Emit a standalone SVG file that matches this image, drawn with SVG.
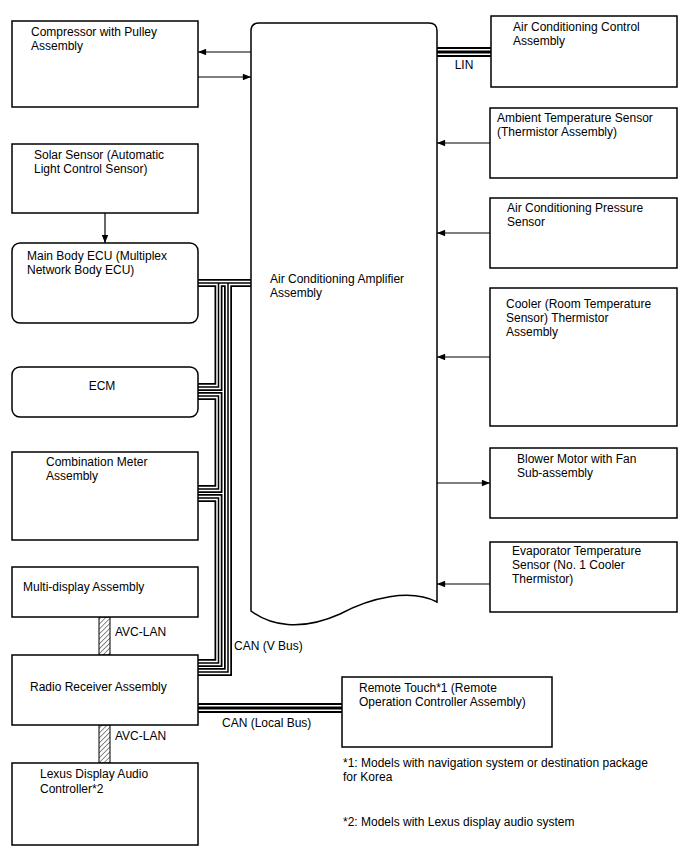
<svg xmlns="http://www.w3.org/2000/svg" width="688" height="852" viewBox="0 0 688 852">
<defs>
<marker id="ah" viewBox="0 0 10 8" refX="10" refY="4" markerWidth="9" markerHeight="6.5" orient="auto" markerUnits="userSpaceOnUse">
<path d="M0,0 L10,4 L0,8 z" fill="#000"/>
</marker>
<pattern id="hatch" width="3.5" height="3.5" patternUnits="userSpaceOnUse" patternTransform="rotate(45)">
<rect width="3.5" height="3.5" fill="#fff"/>
<line x1="0" y1="0" x2="0" y2="3.5" stroke="#000" stroke-width="0.9"/>
</pattern>
</defs>
<style>
text{font-family:"Liberation Sans",Arial,sans-serif;font-size:12px;fill:#000}
.box{fill:#fff;stroke:#000;stroke-width:1.5}
.ln{fill:none;stroke:#000;stroke-width:1.2}
.k{fill:none;stroke:#000;stroke-width:8;stroke-linejoin:miter}
.w{fill:none;stroke:#fff;stroke-width:4.5;stroke-linejoin:miter}
.c{fill:none;stroke:#000;stroke-width:1.5;stroke-linejoin:miter}
.kl{fill:none;stroke:#000;stroke-width:10}
.wl{fill:none;stroke:#fff;stroke-width:6}
.cl{fill:none;stroke:#000;stroke-width:3}
.hat{fill:url(#hatch);stroke:#000;stroke-width:1}
</style>

<g id="connectors">
<line class="ln" x1="251" y1="52" x2="198" y2="52" marker-end="url(#ah)"/>
<line class="ln" x1="198" y1="77" x2="251" y2="77" marker-end="url(#ah)"/>
<line class="ln" x1="105" y1="213" x2="105" y2="243" marker-end="url(#ah)"/>
<line class="ln" x1="490" y1="143" x2="437" y2="143" marker-end="url(#ah)"/>
<line class="ln" x1="490" y1="233" x2="437" y2="233" marker-end="url(#ah)"/>
<line class="ln" x1="490" y1="357" x2="437" y2="357" marker-end="url(#ah)"/>
<line class="ln" x1="437" y1="483" x2="490" y2="483" marker-end="url(#ah)"/>
<line class="ln" x1="490" y1="584" x2="437" y2="584" marker-end="url(#ah)"/>
<g id="lin-bus">
<line class="kl" x1="437" y1="52" x2="491" y2="52"/>
<line class="wl" x1="437" y1="52" x2="491" y2="52"/>
<line class="cl" x1="437" y1="52" x2="491" y2="52"/>
</g>
<g id="can-local-bus">
<line class="kl" x1="197" y1="708" x2="342" y2="708"/>
<line class="wl" x1="197" y1="708" x2="342" y2="708"/>
<line class="cl" x1="197" y1="708" x2="342" y2="708"/>
</g>
<g id="can-v-bus">
<path class="k" d="M197,283 H251"/>
<path class="k" d="M228,283 V672 H197"/>
<path class="k" d="M218.5,283 V387 H197"/>
<path class="k" d="M197,396 H218.5 V489 H197"/>
<path class="k" d="M197,498 H218.5 V663 H197"/>
<path class="w" d="M197,283 H251"/>
<path class="w" d="M228,283 V672 H197"/>
<path class="w" d="M218.5,283 V387 H197"/>
<path class="w" d="M197,396 H218.5 V489 H197"/>
<path class="w" d="M197,498 H218.5 V663 H197"/>
<path class="c" d="M197,283 H251"/>
<path class="c" d="M228,283 V672 H197"/>
<path class="c" d="M218.5,283 V387 H197"/>
<path class="c" d="M197,396 H218.5 V489 H197"/>
<path class="c" d="M197,498 H218.5 V663 H197"/>
</g>
<rect class="hat" x="99" y="617" width="11" height="38"/>
<rect class="hat" x="99" y="725" width="11" height="38"/>
<text x="464" y="69" text-anchor="middle">LIN</text>
<text x="234" y="650">CAN (V Bus)</text>
<text x="222" y="727">CAN (Local Bus)</text>
<text x="115" y="636">AVC-LAN</text>
<text x="115" y="740">AVC-LAN</text>
</g>

<g id="amplifier">
<path class="box" d="M251,611 L251,31 Q251,23 259,23 L429,23 Q437,23 437,31 L437,602 C410,588 370,598 340,614 C300,632 270,625 251,611 Z"/>
<text x="270" y="283">Air Conditioning Amplifier</text>
<text x="270" y="297">Assembly</text>
</g>

<g id="compressor">
<rect class="box" x="12" y="21" width="186" height="86"/>
<text x="31" y="36">Compressor with Pulley</text>
<text x="31" y="50">Assembly</text>
</g>
<g id="solar-sensor">
<rect class="box" x="12" y="144" width="186" height="69"/>
<text x="34" y="159">Solar Sensor (Automatic</text>
<text x="34" y="173">Light Control Sensor)</text>
</g>
<g id="main-body-ecu">
<rect class="box" x="12" y="243" width="186" height="80" rx="8"/>
<text x="27" y="260">Main Body ECU (Multiplex</text>
<text x="27" y="274">Network Body ECU)</text>
</g>
<g id="ecm">
<rect class="box" x="12" y="367" width="186" height="50" rx="8"/>
<text x="102" y="390" text-anchor="middle">ECM</text>
</g>
<g id="combination-meter">
<rect class="box" x="12" y="452" width="186" height="88"/>
<text x="46" y="466">Combination Meter</text>
<text x="46" y="480">Assembly</text>
</g>
<g id="multi-display">
<rect class="box" x="12" y="567" width="186" height="50"/>
<text x="23" y="591">Multi-display Assembly</text>
</g>
<g id="radio-receiver">
<rect class="box" x="12" y="655" width="186" height="70"/>
<text x="30" y="691">Radio Receiver Assembly</text>
</g>
<g id="lexus-display-audio">
<rect class="box" x="12" y="763" width="186" height="82"/>
<text x="40" y="778">Lexus Display Audio</text>
<text x="40" y="793">Controller*2</text>
</g>
<g id="remote-touch">
<rect class="box" x="342" y="677" width="210" height="70"/>
<text x="359" y="692">Remote Touch*1 (Remote</text>
<text x="359" y="706">Operation Controller Assembly)</text>
</g>
<g id="ac-control">
<rect class="box" x="491" y="16" width="186" height="71"/>
<text x="513" y="31">Air Conditioning Control</text>
<text x="513" y="45">Assembly</text>
</g>
<g id="ambient-sensor">
<rect class="box" x="490" y="108" width="187" height="70"/>
<text x="497" y="122">Ambient Temperature Sensor</text>
<text x="497" y="136">(Thermistor Assembly)</text>
</g>
<g id="pressure-sensor">
<rect class="box" x="490" y="198" width="187" height="70"/>
<text x="507" y="212">Air Conditioning Pressure</text>
<text x="507" y="226">Sensor</text>
</g>
<g id="cooler-thermistor">
<rect class="box" x="490" y="288" width="187" height="138"/>
<text x="506" y="308">Cooler (Room Temperature</text>
<text x="506" y="322">Sensor) Thermistor</text>
<text x="506" y="336">Assembly</text>
</g>
<g id="blower-motor">
<rect class="box" x="490" y="448" width="187" height="70"/>
<text x="517" y="463">Blower Motor with Fan</text>
<text x="517" y="477">Sub-assembly</text>
</g>
<g id="evaporator-sensor">
<rect class="box" x="490" y="542" width="187" height="70"/>
<text x="512" y="555">Evaporator Temperature</text>
<text x="512" y="569">Sensor (No. 1 Cooler</text>
<text x="512" y="583">Thermistor)</text>
</g>
<g id="notes">
<text x="343" y="767">*1: Models with navigation system or destination package</text>
<text x="343" y="781">for Korea</text>
<text x="343" y="826">*2: Models with Lexus display audio system</text>
</g>
</svg>
